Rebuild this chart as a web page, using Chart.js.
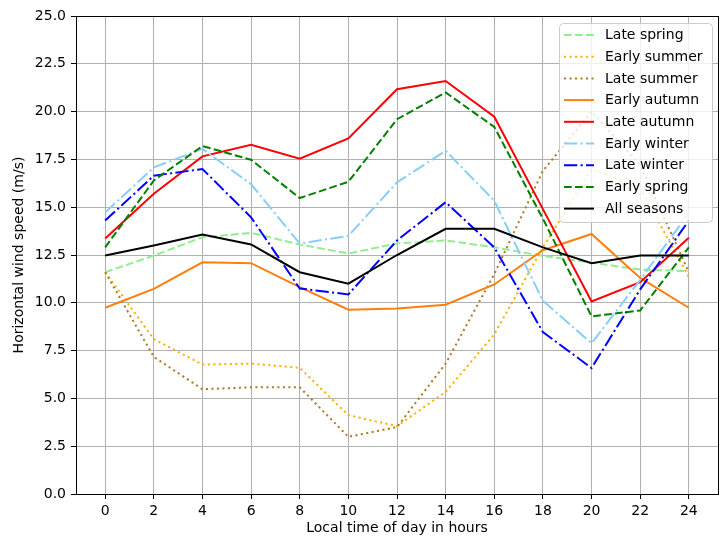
<!DOCTYPE html>
<html>
<head>
<meta charset="utf-8">
<script src="https://cdn.jsdelivr.net/npm/chart.js@4"></script>
<style>
  html, body { margin: 0; padding: 0; background: #fff; }
  #wrap { width: 725px; height: 538px; position: relative; }
</style>
</head>
<body>
<div id="wrap"><canvas id="windChart" width="725" height="538"></canvas></div>
<script>
// Hours of the day (x values) and axis ticks
const hours = [0, 2, 4, 6, 8, 10, 12, 14, 16, 18, 20, 22, 24];
const xTicks = [0, 2, 4, 6, 8, 10, 12, 14, 16, 18, 20, 22, 24];
const yTicks = [0, 2.5, 5, 7.5, 10, 12.5, 15, 17.5, 20, 22.5, 25];

// Wind speed per season (m/s)
const lateSpring   = [11.6, 12.47, 13.43, 13.66, 13.05, 12.58, 13.1, 13.26, 12.9, 12.45, 12.1, 11.74, 11.66];
const earlySummer  = [11.6, 8.1, 6.77, 6.82, 6.6, 4.12, 3.55, 5.34, 8.35, 12.9, 17.0, 16.0, 11.35];
const lateSummer   = [11.6, 7.17, 5.48, 5.58, 5.58, 2.99, 3.5, 6.82, 11.5, 16.9, 20.0, 17.2, 11.6];
const earlyAutumn  = [9.74, 10.73, 12.12, 12.07, 10.82, 9.64, 9.7, 9.9, 10.96, 12.75, 13.6, 11.3, 9.74];
const lateAutumn   = [13.36, 15.7, 17.66, 18.27, 17.54, 18.6, 21.17, 21.6, 19.73, 14.9, 10.07, 11.08, 13.4];
const earlyWinter  = [14.73, 17.08, 18.05, 16.2, 13.1, 13.5, 16.3, 17.95, 15.34, 10.1, 7.88, 11.2, 14.7];
const lateWinter   = [14.3, 16.65, 17.0, 14.47, 10.75, 10.44, 13.26, 15.26, 12.9, 8.47, 6.59, 10.7, 14.3];
const earlySpring  = [12.9, 16.4, 18.2, 17.48, 15.48, 16.33, 19.6, 21.0, 19.2, 14.4, 9.29, 9.6, 12.9];
const allSeasons   = [12.47, 13.0, 13.57, 13.05, 11.6, 11.0, 12.5, 13.87, 13.87, 12.9, 12.07, 12.47, 12.47];

const seasonNames = ['Late spring', 'Early summer', 'Late summer', 'Early autumn', 'Late autumn',
                     'Early winter', 'Late winter', 'Early spring', 'All seasons'];
const seasonValues = [lateSpring, earlySummer, lateSummer, earlyAutumn, lateAutumn,
                      earlyWinter, lateWinter, earlySpring, allSeasons];

// matplotlib-like line styles (scaled for ~2px lines)
const DASHED = [7.7, 3.3];
const DOTTED = [2.1, 3.4];
const DASHDOT = [13.3, 3.3, 2.1, 3.3];
const lineColors = ['#90ee90', '#ffb000', '#b07a2e', '#ff7f0e', '#ff0000', '#87cefa', '#0000ff', '#008000', '#000000'];
const lineDashes = [DASHED, DOTTED, DOTTED, [], [], DASHDOT, DASHDOT, DASHED, []];

const FONT = 'DejaVu Sans';
const FSIZE = 14;

const datasets = seasonNames.map((name, i) => ({
    label: name,
    data: hours.map((h, j) => ({ x: h, y: seasonValues[i][j] })),
    borderColor: lineColors[i],
    backgroundColor: lineColors[i],
    borderDash: lineDashes[i],
    borderWidth: 2,
    borderCapStyle: 'butt',
    pointRadius: 0,
    tension: 0,
    fill: false,
    order: -i // later series drawn on top, like matplotlib
}));

// Frame around the plot + legend box in the upper right
const framePlugin = {
    id: 'frameAndLegend',
    afterDraw(chart) {
        const ctx = chart.ctx;
        const a = chart.chartArea;
        ctx.save();
        ctx.strokeStyle = '#000';
        ctx.lineWidth = 1;
        ctx.setLineDash([]);
        ctx.strokeRect(Math.round(a.left) + 0.5, Math.round(a.top) + 0.5,
                       Math.round(a.right - a.left), Math.round(a.bottom - a.top));

        // legend
        const boxX = 559, boxY = 23, boxW = 153, rowH = 21.7, boxH = 199;
        ctx.beginPath();
        ctx.roundRect(boxX + 0.5, boxY + 0.5, boxW, boxH, 4);
        ctx.fillStyle = 'rgba(255,255,255,0.8)';
        ctx.fill();
        ctx.strokeStyle = '#cccccc';
        ctx.lineWidth = 1;
        ctx.stroke();

        ctx.font = FSIZE + 'px "' + FONT + '"';
        ctx.textBaseline = 'middle';
        ctx.textAlign = 'left';
        chart.data.datasets.forEach((ds, i) => {
            const y = 35 + i * rowH;
            ctx.beginPath();
            ctx.setLineDash(ds.borderDash);
            ctx.lineCap = 'butt';
            ctx.strokeStyle = ds.borderColor;
            ctx.lineWidth = 2;
            ctx.moveTo(564, y);
            ctx.lineTo(594, y);
            ctx.stroke();
            ctx.setLineDash([]);
            ctx.fillStyle = '#000';
            ctx.fillText(ds.label, 605, y + 0.5);
        });
        ctx.restore();
    }
};

new Chart(document.getElementById('windChart'), {
    type: 'line',
    data: { datasets: datasets },
    plugins: [framePlugin],
    options: {
        responsive: false,
        animation: false,
        devicePixelRatio: 1,
        layout: { padding: { left: 0, top: 16, right: 7, bottom: 0 } },
        plugins: {
            legend: { display: false },
            tooltip: { enabled: false }
        },
        scales: {
            x: {
                type: 'linear',
                min: -1.2,
                max: 25.2,
                afterBuildTicks: (s) => { s.ticks = xTicks.map(v => ({ value: v })); },
                afterFit: (s) => { s.height = 44; },
                ticks: {
                    color: '#000',
                    font: { family: FONT, size: FSIZE },
                    padding: 4,
                    maxRotation: 0,
                    autoSkip: false,
                    callback: (v) => String(v)
                },
                grid: { color: '#b0b0b0', lineWidth: 1, tickColor: '#000', tickLength: 5 },
                border: { display: true, color: '#000', width: 1 },
                title: {
                    display: true,
                    text: 'Local time of day in hours',
                    color: '#000',
                    font: { family: FONT, size: FSIZE },
                    padding: { top: 0, bottom: 1 }
                }
            },
            y: {
                type: 'linear',
                min: 0,
                max: 25,
                afterBuildTicks: (s) => { s.ticks = yTicks.map(v => ({ value: v })); },
                afterFit: (s) => { s.width = 76; },
                ticks: {
                    color: '#000',
                    font: { family: FONT, size: FSIZE },
                    padding: 5,
                    autoSkip: false,
                    callback: (v) => Number(v).toFixed(1)
                },
                grid: { color: '#b0b0b0', lineWidth: 1, tickColor: '#000', tickLength: 5 },
                border: { display: true, color: '#000', width: 1 },
                title: {
                    display: true,
                    text: 'Horizontal wind speed (m/s)',
                    color: '#000',
                    font: { family: FONT, size: FSIZE },
                    padding: { top: 10.5, bottom: 0 }
                }
            }
        }
    }
});
</script>
</body>
</html>
